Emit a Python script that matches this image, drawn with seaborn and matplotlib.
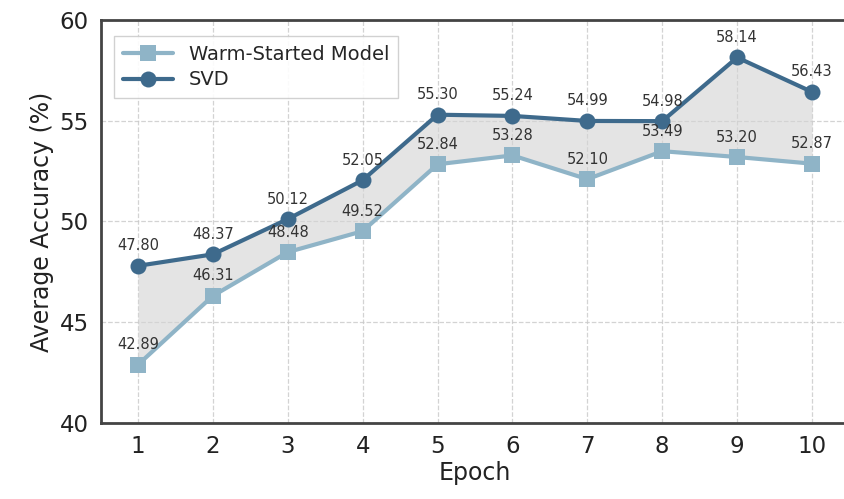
import matplotlib
matplotlib.use("Agg")
import matplotlib.pyplot as plt
import seaborn as sns
import pandas as pd
import numpy as np

epochs = [1, 2, 3, 4, 5, 6, 7, 8, 9, 10]
warm = [42.89, 46.31, 48.48, 49.52, 52.84, 53.28, 52.10, 53.49, 53.20, 52.87]
svd = [47.80, 48.37, 50.12, 52.05, 55.30, 55.24, 54.99, 54.98, 58.14, 56.43]
yticks = [40, 45, 50, 55, 60]

sns.set_style("white")
plt.rcParams['font.family'] = ['DejaVu Sans']

c_warm = "#8fb4c7"
c_svd = "#3e6a8c"

fig = plt.figure(figsize=(8.44, 4.99), dpi=100)
ax = fig.add_axes([100.5/844, 76/499, 749/844, 403/499])

df = pd.DataFrame({"Epoch": epochs + epochs,
                   "Acc": warm + svd,
                   "Model": ["Warm-Started Model"] * 10 + ["SVD"] * 10})

ax.fill_between(epochs, warm, svd, color="#d3d3d3", alpha=0.6, zorder=1, linewidth=0)
sns.lineplot(data=df, x="Epoch", y="Acc", hue="Model", style="Model",
             markers={"Warm-Started Model": "s", "SVD": "o"}, dashes=False,
             palette={"Warm-Started Model": c_warm, "SVD": c_svd},
             linewidth=3, markersize=11.5, markeredgewidth=0, ax=ax, zorder=3)

for x, y in zip(epochs, warm):
    ax.annotate(f"{y:.2f}", (x, y), xytext=(0, 9), textcoords="offset points",
                ha="center", va="bottom", fontsize=10.5, color="#333333", zorder=5)
for x, y in zip(epochs, svd):
    ax.annotate(f"{y:.2f}", (x, y), xytext=(0, 9), textcoords="offset points",
                ha="center", va="bottom", fontsize=10.5, color="#333333", zorder=5)

ax.set_xlim(0.5, 10.5)
ax.set_ylim(40, 60)
ax.set_xticks(epochs)
ax.set_yticks(yticks)
ax.tick_params(axis="both", labelsize=16.5, length=5, width=1.2, color="#444444",
               direction="out", labelcolor="#222222")
ax.set_xlabel("Epoch", fontsize=17, color="#222222", labelpad=2)
ax.set_ylabel("Average Accuracy (%)", fontsize=17, color="#222222")
ax.grid(True, linestyle="--", color="#c8c8c8", linewidth=0.9, alpha=0.8)
ax.set_axisbelow(True)
for s in ax.spines.values():
    s.set_color("#444444")
    s.set_linewidth(2)
ax.spines['right'].set_visible(False)

leg = ax.legend(loc="upper left", fontsize=14, frameon=True, framealpha=0.9,
                edgecolor="#cccccc", fancybox=False, borderpad=0.45,
                handlelength=2.6, labelspacing=0.35, bbox_to_anchor=(0.005, 0.985))
leg.get_frame().set_linewidth(1)

fig.savefig("out.png", dpi=100)
